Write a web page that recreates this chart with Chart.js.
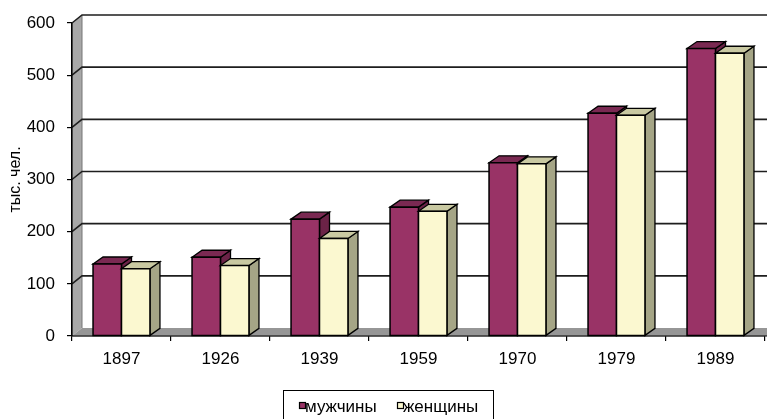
<!DOCTYPE html>
<html>
<head>
<meta charset="utf-8">
<script src="https://cdn.jsdelivr.net/npm/chart.js@4/dist/chart.umd.min.js"></script>
<style>
html,body{margin:0;padding:0;background:#fff;}
#wrap{width:767px;height:419px;position:relative;}
</style>
</head>
<body>
<div id="wrap"><canvas id="c" width="767" height="419"></canvas></div>
<script>
const years = ['1897','1926','1939','1959','1970','1979','1989'];
const male = [138, 151, 224, 247, 332, 427, 551];
const female = [129, 135, 187, 239, 330, 423, 542];
const yTicks = [0, 100, 200, 300, 400, 500, 600];
const seriesNames = ['мужчины', 'женщины'];
const yTitle = 'тыс. чел.';

const FONT = "'Liberation Sans', Arial, sans-serif";
const wall = {dx: 10, dy: 8};
const bar3d = {dx: 10, dy: 7};
const faces = [
  {front: '#993366', top: '#7a2952', side: '#6b2347'},
  {front: '#fbf8d0', top: '#c9c9a2', side: '#a5a586'}
];

function poly(ctx, pts, fill, stroke, lw) {
  ctx.beginPath();
  ctx.moveTo(pts[0][0], pts[0][1]);
  for (let i = 1; i < pts.length; i++) ctx.lineTo(pts[i][0], pts[i][1]);
  ctx.closePath();
  if (fill) { ctx.fillStyle = fill; ctx.fill(); }
  if (stroke) { ctx.strokeStyle = stroke; ctx.lineWidth = lw || 1; ctx.stroke(); }
}

const threeD = {
  id: 'threeD',
  beforeDatasetsDraw(chart) {
    const {ctx, chartArea: a, scales: {y}} = chart;
    const W = chart.width + 20;
    ctx.save();
    poly(ctx, [[a.left, a.top], [a.left + wall.dx, a.top - wall.dy], [a.left + wall.dx, a.bottom - wall.dy], [a.left, a.bottom]], '#a8a8a8');
    poly(ctx, [[a.left, a.bottom], [a.left + wall.dx, a.bottom - wall.dy], [W, a.bottom - wall.dy], [W, a.bottom]], '#969696');
    ctx.strokeStyle = '#777';
    ctx.lineWidth = 1;
    ctx.beginPath();
    ctx.moveTo(a.left + wall.dx, a.top - wall.dy);
    ctx.lineTo(a.left + wall.dx, a.bottom - wall.dy);
    ctx.stroke();
    ctx.strokeStyle = '#1e1e1e';
    ctx.lineWidth = 1.6;
    yTicks.forEach(v => {
      if (v === 0) return;
      const py = y.getPixelForValue(v);
      ctx.beginPath();
      ctx.moveTo(a.left, py);
      ctx.lineTo(a.left + wall.dx, py - wall.dy);
      ctx.lineTo(W, py - wall.dy);
      ctx.stroke();
    });
    ctx.restore();
  },
  afterDatasetsDraw(chart) {
    const {ctx, chartArea: a} = chart;
    ctx.save();
    const metas = [chart.getDatasetMeta(0), chart.getDatasetMeta(1)];
    for (let i = 0; i < years.length; i++) {
      metas.forEach((m, d) => {
        const el = m.data[i];
        const f = faces[d];
        const l = el.x - el.width / 2, r = el.x + el.width / 2;
        const t = el.y, b = el.base;
        poly(ctx, [[r, t], [r + bar3d.dx, t - bar3d.dy], [r + bar3d.dx, b - bar3d.dy], [r, b]], f.side, '#000', 1.3);
        poly(ctx, [[l, t], [l + bar3d.dx, t - bar3d.dy], [r + bar3d.dx, t - bar3d.dy], [r, t]], f.top, '#000', 1.3);
        poly(ctx, [[l, t], [r, t], [r, b], [l, b]], f.front, '#000', 1.5);
      });
    }
    ctx.strokeStyle = '#000';
    ctx.lineWidth = 1.2;
    ctx.beginPath();
    ctx.moveTo(a.left, a.top);
    ctx.lineTo(a.left, a.bottom);
    ctx.lineTo(chart.width, a.bottom);
    ctx.stroke();
    ctx.restore();
  },
  afterDraw(chart) {
    const ctx = chart.ctx;
    ctx.save();
    ctx.strokeStyle = '#000';
    ctx.lineWidth = 1;
    ctx.strokeRect(283.5, 390.5, 210, 40);
    ctx.font = '17px ' + FONT;
    ctx.textBaseline = 'middle';
    const items = [{x: 299, tx: 305}, {x: 397, tx: 403}];
    items.forEach((it, d) => {
      ctx.fillStyle = faces[d].front;
      ctx.fillRect(it.x + 0.5, 402.5, 6, 6);
      ctx.strokeStyle = '#000';
      ctx.lineWidth = 1.2;
      ctx.strokeRect(it.x + 0.5, 402.5, 6, 6);
      ctx.fillStyle = '#000';
      ctx.fillText(seriesNames[d], it.tx, 407);
    });
    ctx.restore();
  }
};

new Chart(document.getElementById('c'), {
  type: 'bar',
  data: {
    labels: years,
    datasets: [
      {label: seriesNames[0], data: male, backgroundColor: faces[0].front, borderColor: '#000', borderWidth: 1.5, categoryPercentage: 0.575, barPercentage: 1},
      {label: seriesNames[1], data: female, backgroundColor: faces[1].front, borderColor: '#000', borderWidth: 1.5, categoryPercentage: 0.575, barPercentage: 1}
    ]
  },
  options: {
    responsive: false,
    animation: false,
    devicePixelRatio: 1,
    layout: {padding: {left: 0, right: 2, top: 23, bottom: 0}},
    plugins: {legend: {display: false}, tooltip: {enabled: false}},
    scales: {
      x: {
        grid: {display: true, drawOnChartArea: false, drawTicks: true, tickLength: 5, color: '#000', lineWidth: 1.2, offset: true},
        border: {display: true, color: '#000', width: 1.2},
        ticks: {font: {family: FONT, size: 17}, color: '#000', padding: 8, maxRotation: 0},
        afterFit(s) { s.height = 83; }
      },
      y: {
        min: 0, max: 600,
        afterBuildTicks(s) { s.ticks = yTicks.map(v => ({value: v})); },
        grid: {display: true, drawOnChartArea: false, drawTicks: true, tickLength: 5, color: '#000', lineWidth: 1.2},
        border: {display: true, color: '#000', width: 1.2},
        ticks: {font: {family: FONT, size: 17}, color: '#000', padding: 12},
        title: {display: true, text: yTitle, font: {family: FONT, size: 16}, color: '#000', padding: {top: 6, bottom: 0}},
        afterFit(s) { s.width = 72; }
      }
    }
  },
  plugins: [threeD]
});
</script>
</body>
</html>
